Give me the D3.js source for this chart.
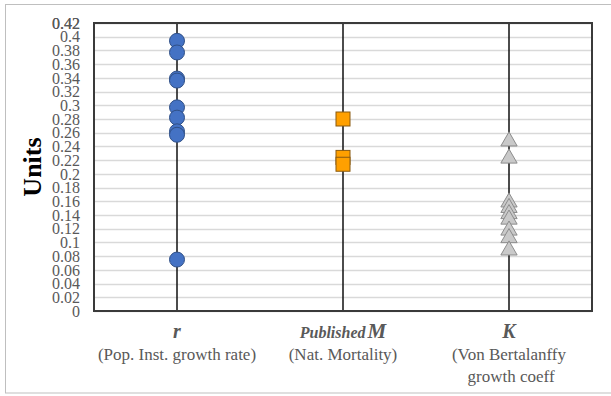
<!DOCTYPE html>
<html><head><meta charset="utf-8">
<script src="https://cdn.jsdelivr.net/npm/d3@7"></script>
<style>body{margin:0;background:#fff}svg{display:block}</style>
</head><body>
<script>
const categories = ["r", "M", "K"];
const rValues = [0.394, 0.377, 0.339, 0.336, 0.297, 0.282, 0.262, 0.257, 0.075];
const mValues = [0.280, 0.224, 0.214];
const kValues = [0.249, 0.224, 0.160, 0.152, 0.143, 0.135, 0.119, 0.108, 0.090];
const yTicks = d3.range(0, 22).map(i => +(i * 0.02).toFixed(2)).concat([0.42]);
const yTickLabels = yTicks.map(v => d3.format("~g")(v));
const subLabels = [["(Pop. Inst. growth rate)"], ["(Nat. Mortality)"], ["(Von Bertalanffy", " growth coeff"]];

const W = 611, H = 396;
const m = {left: 94, right: 19, top: 23, bottom: 85};
const svg = d3.select("body").append("svg").attr("width", W).attr("height", H);

svg.append("rect").attr("x", 5.5).attr("y", 4.5).attr("width", 620).attr("height", 388.5)
  .attr("fill", "none").attr("stroke", "#bfbfbf").attr("stroke-width", 1);

const x = d3.scaleBand().domain(categories).range([m.left, W - m.right]);
const y = d3.scaleLinear().domain([0, 0.42]).range([H - m.bottom, m.top]);
const font = "'Liberation Serif', 'Times New Roman', serif";

// gridlines
svg.append("g").selectAll("line").data(yTicks).join("line")
  .attr("x1", m.left).attr("x2", W - m.right)
  .attr("y1", d => Math.round(y(d)) + 0.5).attr("y2", d => Math.round(y(d)) + 0.5)
  .attr("stroke", "#d9d9d9").attr("stroke-width", 1.5);

// y axis labels
const yAxis = d3.axisLeft(y).tickValues(yTicks)
  .tickFormat((d, i) => yTickLabels[i]).tickSize(0).tickPadding(14);
const ga = svg.append("g").attr("transform", `translate(${m.left},0)`).call(yAxis);
ga.select(".domain").remove();
ga.selectAll("text").attr("font-family", font).attr("font-size", 16).attr("fill", "#595959").attr("dy", "0.33em");

// vertical category lines
svg.append("g").selectAll("line").data(categories).join("line")
  .attr("x1", d => x(d) + x.bandwidth() / 2).attr("x2", d => x(d) + x.bandwidth() / 2)
  .attr("y1", m.top).attr("y2", H - m.bottom)
  .attr("stroke", "#111").attr("stroke-width", 1.5);

// plot border
svg.append("rect").attr("x", m.left).attr("y", m.top)
  .attr("width", W - m.left - m.right).attr("height", H - m.top - m.bottom)
  .attr("fill", "none").attr("stroke", "#3a3a3a").attr("stroke-width", 2);

// markers
const cx = c => x(c) + x.bandwidth() / 2;
svg.append("g").selectAll("circle").data(rValues).join("circle")
  .attr("cx", cx("r")).attr("cy", d => y(d)).attr("r", 7.5)
  .attr("fill", "#4472c4").attr("stroke", "#2f4f86").attr("stroke-width", 1);
svg.append("g").selectAll("rect").data(mValues).join("rect")
  .attr("x", cx("M") - 7).attr("y", d => y(d) - 7).attr("width", 14).attr("height", 14)
  .attr("fill", "#ffa000").attr("stroke", "#8a5a10").attr("stroke-width", 1);
const tri = d3.symbol().type(d3.symbolTriangle).size(115);
svg.append("g").selectAll("path").data(kValues).join("path")
  .attr("d", tri).attr("transform", d => `translate(${cx("K")},${y(d) + 1})`)
  .attr("fill", "#c9c9c9").attr("stroke", "#8c8c8c").attr("stroke-width", 1);

// y title
svg.append("text").attr("transform", `translate(41,${(m.top + H - m.bottom) / 2}) rotate(-90)`)
  .attr("text-anchor", "middle").attr("font-family", font).attr("font-weight", "bold")
  .attr("font-size", 26).attr("fill", "#000").text("Units");

// x labels
const lab = svg.append("g").attr("font-family", font).attr("fill", "#595959").attr("text-anchor", "middle");
lab.append("text").attr("x", cx("r")).attr("y", 338).attr("font-size", 20)
  .attr("font-weight", "bold").attr("font-style", "italic").text("r");
const tM = lab.append("text").attr("x", cx("M")).attr("y", 338).attr("font-weight", "bold").attr("font-style", "italic");
tM.append("tspan").attr("font-size", 16).text("Published");
tM.append("tspan").attr("font-size", 21).attr("dx", 2).text("M");
lab.append("text").attr("x", cx("K")).attr("y", 338).attr("font-size", 20)
  .attr("font-weight", "bold").attr("font-style", "italic").text("K");
categories.forEach((c, i) => {
  subLabels[i].forEach((s, j) => {
    lab.append("text").attr("x", cx(c)).attr("y", 360 + j * 22).attr("font-size", 17)
      .attr("xml:space", "preserve").text(s);
  });
});
</script>
</body></html>
